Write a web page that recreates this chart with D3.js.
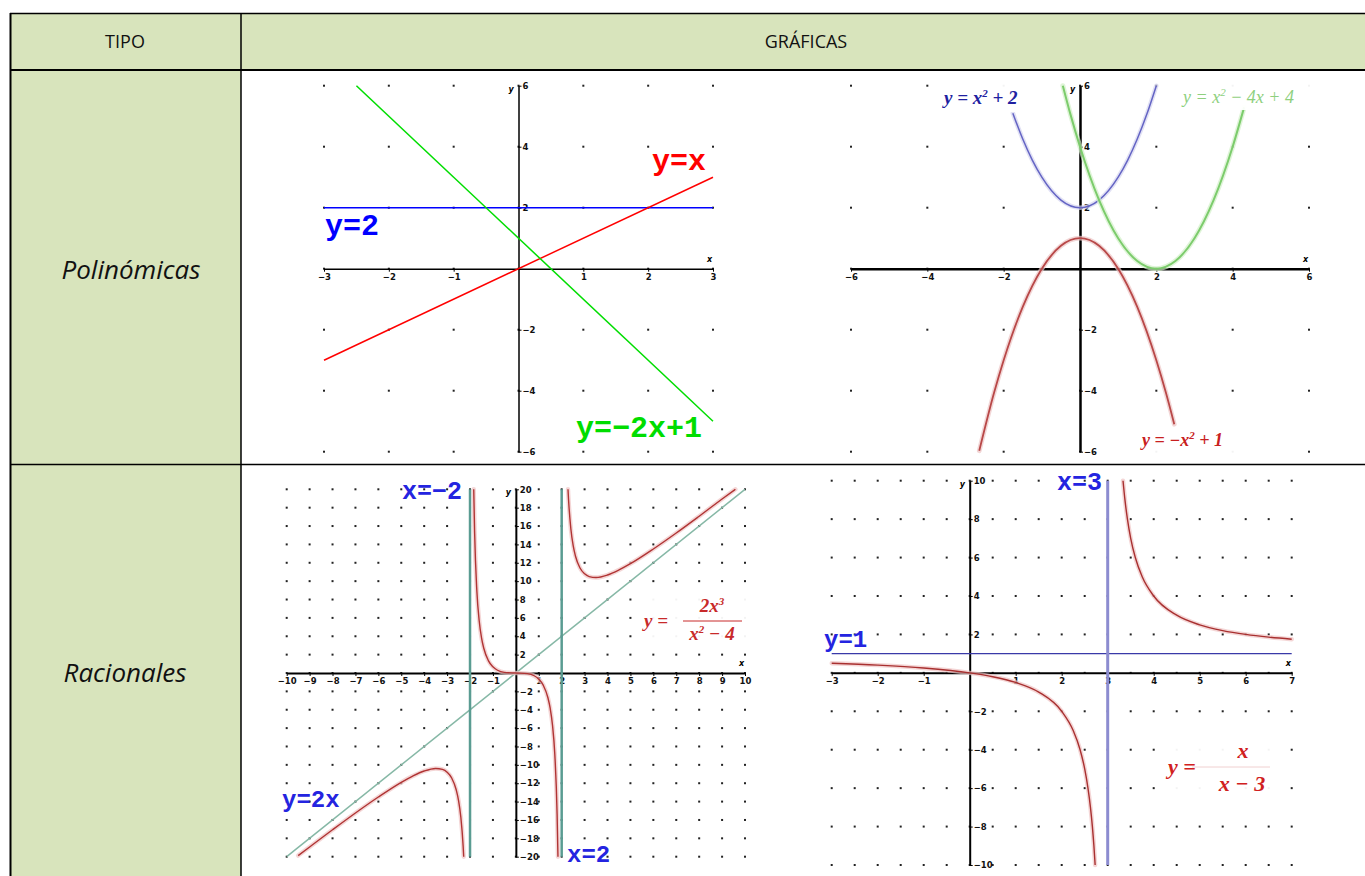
<!DOCTYPE html>
<html lang="es">
<head>
<meta charset="UTF-8">
<title>Tipos de funciones</title>
<script src="https://d3js.org/d3.v7.min.js"></script>
<style>
  body { margin: 0; background: #fff; }
  .tick text { font-family: "DejaVu Sans", sans-serif; font-weight: bold; font-size: 8.5px; fill: #111; }
  .mono { font-family: "Liberation Mono", "Courier New", monospace; font-weight: bold; }
  .serif { font-family: "Liberation Serif", "Times New Roman", serif; font-style: italic; }
</style>
</head>
<body>
<div class="Tabla"></div>
<script>
// ---- Polinómicas: rectas ----
const p1XTicks = [-3, -2, -1, 1, 2, 3];
const p1YTicks = [6, 4, 2, -2, -4, -6];
const p1DotX = [-3, -2, -1, 0, 1, 2, 3];
const p1DotY = [-6, -4, -2, 0, 2, 4, 6];
const p1LineYx = [[-3, -3], [3, 3]];
const p1LineY2 = [[-3, 2], [3, 2]];
const p1LineM2x = [[-2.5, 6], [3, -5]];

// ---- Polinómicas: parábolas ----
const p2XTicks = [-6, -4, -2, 2, 4, 6];
const p2YTicks = [6, 4, 2, -2, -4, -6];
const p2DotX = [-6, -4, -2, 0, 2, 4, 6];
const p2DotY = [-6, -4, -2, 0, 2, 4, 6];
const p2Blue = [[-1.76, 5.1], [-1.5, 4.25], [-1.25, 3.56], [-1, 3], [-0.5, 2.25], [0, 2], [0.5, 2.25], [1, 3], [1.25, 3.56], [1.5, 4.25], [1.75, 5.06], [2, 6]];
const p2Green = [[-0.45, 6], [-0.25, 5.06], [0, 4], [0.5, 2.25], [1, 1], [1.5, 0.25], [2, 0], [2.5, 0.25], [3, 1], [3.5, 2.25], [4, 4], [4.3, 5.29]];
const p2Red = [[-2.64, -5.97], [-2.25, -4.06], [-2, -3], [-1.5, -1.25], [-1, 0], [-0.5, 0.75], [0, 1], [0.5, 0.75], [1, 0], [1.5, -1.25], [2, -3], [2.25, -4.06], [2.47, -5.1]];

// ---- Racionales: y = 2x^3/(x^2-4) ----
const p3XTicks = [-10, -9, -8, -7, -6, -5, -4, -3, -2, -1, 1, 2, 3, 4, 5, 6, 7, 8, 9, 10];
const p3YTicks = [20, 18, 16, 14, 12, 10, 8, 6, 4, 2, -2, -4, -6, -8, -10, -12, -14, -16, -18, -20];
const p3DotX = [-10, -9, -8, -7, -6, -5, -4, -3, -2, -1, 0, 1, 2, 3, 4, 5, 6, 7, 8, 9, 10];
const p3DotY = [20, 18, 16, 14, 12, 10, 8, 6, 4, 2, 0, -2, -4, -6, -8, -10, -12, -14, -16, -18, -20];
const p3Left = [[-9.5, -19.88], [-9, -18.94], [-8, -17.07], [-7, -15.24], [-6, -13.5], [-5, -11.9], [-4.5, -11.22], [-4, -10.67], [-3.5, -10.39], [-3.2, -10.5], [-3, -10.8], [-2.8, -11.43], [-2.6, -12.74], [-2.5, -13.89], [-2.4, -15.71], [-2.3, -18.86], [-2.275, -20]];
const p3Mid = [[-1.838, 20], [-1.8, 15.35], [-1.7, 8.85], [-1.6, 5.69], [-1.5, 3.86], [-1.4, 2.69], [-1.2, 1.35], [-1, 0.67], [-0.8, 0.3], [-0.5, 0.07], [0, 0], [0.5, -0.07], [0.8, -0.3], [1, -0.67], [1.2, -1.35], [1.4, -2.69], [1.5, -3.86], [1.6, -5.69], [1.7, -8.85], [1.8, -15.35], [1.838, -20]];
const p3Right = [[2.275, 20], [2.3, 18.86], [2.4, 15.71], [2.5, 13.89], [2.6, 12.74], [2.8, 11.43], [3, 10.8], [3.2, 10.5], [3.5, 10.39], [4, 10.67], [4.5, 11.22], [5, 11.9], [6, 13.5], [7, 15.24], [8, 17.07], [9, 18.94], [9.58, 20]];
const p3Oblique = [[-10, -20], [10, 20]];
const p3AsymL = [[-2, 20], [-2, -20]];
const p3AsymR = [[2, 20], [2, -20]];

// ---- Racionales: y = x/(x-3) ----
const p4XTicks = [-3, -2, -1, 1, 2, 3, 4, 5, 6, 7];
const p4YTicks = [10, 8, 6, 4, 2, -2, -4, -6, -8, -10];
const p4DotX = [-3, -2.5, -2, -1.5, -1, -0.5, 0, 0.5, 1, 1.5, 2, 2.5, 3, 3.5, 4, 4.5, 5, 5.5, 6, 6.5, 7];
const p4DotY = [10, 8, 6, 4, 2, 0, -2, -4, -6, -8, -10];
const p4Left = [[-3, 0.5], [-2, 0.4], [-1, 0.25], [0, 0], [0.5, -0.2], [1, -0.5], [1.5, -1], [2, -2], [2.25, -3], [2.4, -4], [2.5, -5], [2.571, -6], [2.625, -7], [2.667, -8], [2.7, -9], [2.727, -10]];
const p4Right = [[3.333, 10], [3.375, 9], [3.429, 8], [3.5, 7], [3.6, 6], [3.75, 5], [4, 4], [4.5, 3], [5, 2.5], [5.5, 2.2], [6, 2], [6.5, 1.857], [7, 1.75]];
const p4AsymH = [[-3, 1], [7, 1]];
const p4AsymV = [[3, 10], [3, -10]];

const svgWidth = 1365;
const svgHeight = 876;
const headFill = '#d8e4bc';

const svg = d3.select('.Tabla')
  .append('svg')
  .attr('width', svgWidth)
  .attr('height', svgHeight);

// table
svg.append('rect').attr('x', 10).attr('y', 13).attr('width', 1355).attr('height', 57).attr('fill', headFill);
svg.append('rect').attr('x', 10).attr('y', 70).attr('width', 231).attr('height', 806).attr('fill', headFill);
const border = (x1, y1, x2, y2, w) => svg.append('line')
  .attr('x1', x1).attr('y1', y1).attr('x2', x2).attr('y2', y2)
  .attr('stroke', '#000').attr('stroke-width', w);
border(10, 13.5, 1365, 13.5, 1.5);
border(10, 70, 1365, 70, 2);
border(10, 464.5, 1365, 464.5, 1.5);
border(10.5, 13, 10.5, 876, 2);
border(241, 13, 241, 876, 1.5);

const cellText = (x, y, txt, size, italic) => svg.append('text')
  .attr('x', x).attr('y', y)
  .attr('text-anchor', 'middle')
  .style('font-family', '"Open Sans", sans-serif')
  .style('font-size', size + 'px')
  .style('font-style', italic ? 'italic' : 'normal')
  .attr('fill', '#111')
  .text(txt);
cellText(125, 48, 'TIPO', 18, false);
cellText(806, 48, 'GRÁFICAS', 18, false);
cellText(131, 279, 'Polinómicas', 26, true);
cellText(125, 682, 'Racionales', 26, true);

const fmt = d => d < 0 ? '−' + (-d) : String(d);

function drawPanel(p) {
  const g = svg.append('g');
  const x = d3.scaleLinear().domain(p.xDomain).range(p.xRange);
  const y = d3.scaleLinear().domain(p.yDomain).range(p.yRange);

  // dotted grid
  p.dotX.forEach(dx => p.dotY.forEach(dy => {
    g.append('rect')
      .attr('x', x(dx) - 1).attr('y', y(dy) - 1)
      .attr('width', 2).attr('height', 2)
      .attr('fill', '#222');
  }));

  // axes
  g.append('g')
    .attr('transform', `translate(0,${y(0)})`)
    .call(d3.axisBottom(x).tickValues(p.xTicks).tickSize(3).tickSizeOuter(0).tickPadding(2).tickFormat(fmt))
    .call(a => a.select('.domain').attr('stroke-width', p.axisW));
  g.append('g')
    .attr('transform', `translate(${x(0)},0)`)
    .call(d3.axisRight(y).tickValues(p.yTicks).tickSize(3).tickSizeOuter(0).tickPadding(1).tickFormat(fmt))
    .call(a => a.select('.domain').attr('stroke-width', p.axisW));

  g.append('text').attr('x', x(0) - 10).attr('y', y(p.yDomain[1]) + 6)
    .style('font', 'bold italic 8px "DejaVu Sans"').text('y');
  g.append('text').attr('x', x(p.xDomain[1]) - 6).attr('y', y(0) - 7)
    .style('font', 'bold italic 8px "DejaVu Sans"').text('x');

  const line = d3.line().x(d => x(d[0])).y(d => y(d[1]));
  p.series.forEach(s => {
    line.curve(s.smooth ? d3.curveMonotoneX : d3.curveLinear);
    if (s.halo) {
      g.append('path').datum(s.data).attr('d', line)
        .attr('fill', 'none').attr('stroke', s.halo).attr('stroke-width', s.width + 3)
        .attr('stroke-linecap', 'round').attr('opacity', 0.7);
    }
    g.append('path').datum(s.data).attr('d', line)
      .attr('fill', 'none').attr('stroke', s.color).attr('stroke-width', s.width);
  });
  return g;
}

// panel 1
const g1 = drawPanel({
  xDomain: [-3, 3], xRange: [324, 713], yDomain: [-6, 6], yRange: [451.7, 85.7],
  xTicks: p1XTicks, yTicks: p1YTicks, dotX: p1DotX, dotY: p1DotY, axisW: 1.5,
  series: [
    { data: p1LineY2, color: '#0000ff', width: 1.5 },
    { data: p1LineYx, color: '#ff0000', width: 1.5 },
    { data: p1LineM2x, color: '#00dd00', width: 1.5 }
  ]
});
g1.append('text').attr('class', 'mono').attr('x', 652).attr('y', 170).style('font-size', '30px').attr('fill', '#ff0000').text('y=x');
g1.append('text').attr('class', 'mono').attr('x', 325).attr('y', 235).style('font-size', '30px').attr('fill', '#0000ff').text('y=2');
g1.append('text').attr('class', 'mono').attr('x', 576).attr('y', 437).style('font-size', '30px').attr('fill', '#00dd00').text('y=−2x+1');

// panel 2
const g2 = drawPanel({
  xDomain: [-6, 6], xRange: [851, 1309], yDomain: [-6, 6], yRange: [451.7, 85.7],
  xTicks: p2XTicks, yTicks: p2YTicks, dotX: p2DotX, dotY: p2DotY, axisW: 2.5,
  series: [
    { data: p2Blue, color: '#6464c4', width: 1.5, halo: '#d4d4ef', smooth: true },
    { data: p2Green, color: '#7ccc6c', width: 2, halo: '#d2efc8', smooth: true },
    { data: p2Red, color: '#b84848', width: 1.8, halo: '#ecc4c4', smooth: true }
  ]
});
function boxLabel(g, bx, by, bw, bh) {
  g.append('rect').attr('x', bx).attr('y', by).attr('width', bw).attr('height', bh).attr('fill', '#fff').attr('opacity', 0.95);
}
boxLabel(g2, 938, 84, 102, 28);
boxLabel(g2, 1176, 83, 140, 27);
boxLabel(g2, 1136, 428, 114, 26);
const t2a = g2.append('text').attr('class', 'serif').attr('x', 944).attr('y', 104).style('font-size', '19px').style('font-weight', 'bold').attr('fill', '#2020a0');
t2a.append('tspan').text('y = x');
t2a.append('tspan').attr('dy', -7).style('font-size', '11px').text('2');
t2a.append('tspan').attr('dy', 7).text(' + 2');
const t2b = g2.append('text').attr('class', 'serif').attr('x', 1183).attr('y', 103).style('font-size', '18px').attr('fill', '#8ed07e');
t2b.append('tspan').text('y = x');
t2b.append('tspan').attr('dy', -7).style('font-size', '11px').text('2');
t2b.append('tspan').attr('dy', 7).text(' − 4x + 4');
const t2c = g2.append('text').attr('class', 'serif').attr('x', 1142).attr('y', 446).style('font-size', '18px').style('font-weight', 'bold').attr('fill', '#c82020');
t2c.append('tspan').text('y = −x');
t2c.append('tspan').attr('dy', -7).style('font-size', '11px').text('2');
t2c.append('tspan').attr('dy', 7).text(' + 1');

// panel 3
const g3 = drawPanel({
  xDomain: [-10, 10], xRange: [286.7, 745], yDomain: [-20, 20], yRange: [856.7, 489.3],
  xTicks: p3XTicks, yTicks: p3YTicks, dotX: p3DotX, dotY: p3DotY, axisW: 2,
  series: [
    { data: p3Oblique, color: '#86b8a6', width: 1.5 },
    { data: p3AsymL, color: '#5a9c92', width: 2.5 },
    { data: p3AsymR, color: '#5a9c92', width: 2.5 },
    { data: p3Left, color: '#b03434', width: 1.4, halo: '#f0c4c4', smooth: true },
    { data: p3Mid, color: '#b03434', width: 1.4, halo: '#f0c4c4', smooth: true },
    { data: p3Right, color: '#b03434', width: 1.4, halo: '#f0c4c4', smooth: true }
  ]
});
g3.append('text').attr('class', 'mono').attr('x', 402).attr('y', 499).style('font-size', '25px').attr('fill', '#2424e0').text('x=−2');
g3.append('text').attr('class', 'mono').attr('x', 567).attr('y', 862).style('font-size', '24px').attr('fill', '#2424e0').text('x=2');
g3.append('text').attr('class', 'mono').attr('x', 282).attr('y', 807).style('font-size', '24px').attr('fill', '#2424e0').text('y=2x');
boxLabel(g3, 640, 592, 108, 53);
const red3 = '#c82a2a';
g3.append('text').attr('class', 'serif').attr('x', 644).attr('y', 627).style('font-size', '19px').style('font-weight', 'bold').attr('fill', red3).text('y =');
const n3 = g3.append('text').attr('class', 'serif').attr('x', 712).attr('y', 612).attr('text-anchor', 'middle').style('font-size', '19px').style('font-weight', 'bold').attr('fill', red3);
n3.append('tspan').text('2x');
n3.append('tspan').attr('dy', -7).style('font-size', '11px').text('3');
g3.append('line').attr('x1', 683).attr('x2', 742).attr('y1', 621).attr('y2', 621).attr('stroke', red3).attr('stroke-width', 1);
const d3t = g3.append('text').attr('class', 'serif').attr('x', 712).attr('y', 640).attr('text-anchor', 'middle').style('font-size', '19px').style('font-weight', 'bold').attr('fill', red3);
d3t.append('tspan').text('x');
d3t.append('tspan').attr('dy', -7).style('font-size', '11px').text('2');
d3t.append('tspan').attr('dy', 7).text(' − 4');

// panel 4
const g4 = drawPanel({
  xDomain: [-3, 7], xRange: [831.7, 1291.7], yDomain: [-10, 10], yRange: [865, 480.7],
  xTicks: p4XTicks, yTicks: p4YTicks, dotX: p4DotX, dotY: p4DotY, axisW: 2,
  series: [
    { data: p4AsymH, color: '#3a3aa8', width: 1.2 },
    { data: p4AsymV, color: '#8c8cd0', width: 3 },
    { data: p4Left, color: '#a83030', width: 1.4, halo: '#f0c4c4', smooth: true },
    { data: p4Right, color: '#a83030', width: 1.4, halo: '#f0c4c4', smooth: true }
  ]
});
g4.append('text').attr('class', 'mono').attr('x', 1057).attr('y', 490).style('font-size', '25px').attr('fill', '#2424e0').text('x=3');
g4.append('text').attr('class', 'mono').attr('x', 824).attr('y', 647).style('font-size', '24px').attr('fill', '#2424e0').text('y=1');
boxLabel(g4, 1165, 737, 113, 61);
const red4 = '#d02020';
g4.append('text').attr('class', 'serif').attr('x', 1168).attr('y', 774).style('font-size', '22px').style('font-weight', 'bold').attr('fill', red4).text('y =');
g4.append('text').attr('class', 'serif').attr('x', 1243).attr('y', 758).attr('text-anchor', 'middle').style('font-size', '22px').style('font-weight', 'bold').attr('fill', red4).text('x');
g4.append('line').attr('x1', 1192).attr('x2', 1270).attr('y1', 767).attr('y2', 767).attr('stroke', '#f0d0d0').attr('stroke-width', 1);
g4.append('text').attr('class', 'serif').attr('x', 1242).attr('y', 791).attr('text-anchor', 'middle').style('font-size', '22px').style('font-weight', 'bold').attr('fill', red4).text('x − 3');
</script>
</body>
</html>
